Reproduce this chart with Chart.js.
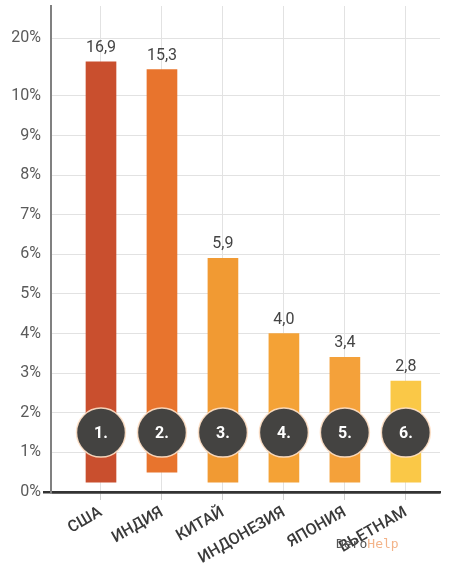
<!DOCTYPE html>
<html>
<head>
<meta charset="utf-8">
<script src="https://cdn.jsdelivr.net/npm/chart.js@4"></script>
<style>
  body { margin: 0; background: #fff; }
  #wrap { position: relative; width: 450px; height: 571px; }
  #mark { position: absolute; left: 336px; top: 536px; font: 13px "DejaVu Sans Mono", monospace; color: #555; }
  #mark span { color: #f3b48a; }
</style>
</head>
<body>
<div id="wrap">
  <canvas id="chart"></canvas>
  <div id="mark">Dero<span>Help</span></div>
</div>
<script>
// Countries and their values (%)
const categories = ["США", "ИНДИЯ", "КИТАЙ", "ИНДОНЕЗИЯ", "ЯПОНИЯ", "ВЬЕТНАМ"];
const values = [16.9, 15.3, 5.9, 4.0, 3.4, 2.8];
const barBases = [0.25, 0.5, 0.25, 0.25, 0.25, 0.25];
const ranks = ["1.", "2.", "3.", "4.", "5.", "6."];
const barColors = ["#c94f2e", "#e8742d", "#f19a33", "#f4a236", "#f4a13a", "#fac847"];
const yTickValues = [0, 1, 2, 3, 4, 5, 6, 7, 8, 9, 10, 20];
const rankLevel = 1.5;

// axis is broken above 10%: the part above is squeezed
const breakScale = 0.125;
const topTickPos = 11.46; // where the 20% label sits on the break
const toAxis = (v) => (v <= 10 ? v : 10 + (v - 10) * breakScale);
const tickPos = (v) => (v <= 10 ? v : topTickPos);

const fmt = (v) => v.toFixed(1).replace(".", ",");

const labelPlugin = {
  id: "labels",
  afterDatasetsDraw(chart) {
    const ctx = chart.ctx;
    ctx.save();
    ctx.textAlign = "center";
    // values above bars
    chart.getDatasetMeta(1).data.forEach((bar, i) => {
      ctx.fillStyle = "#444";
      ctx.font = "16px Roboto";
      ctx.textBaseline = "bottom";
      ctx.fillText(fmt(values[i]), bar.x, bar.y - 6);
    });
    // rank numbers inside circles
    chart.getDatasetMeta(0).data.forEach((pt, i) => {
      ctx.fillStyle = "#fff";
      ctx.font = "bold 16px Roboto";
      ctx.textBaseline = "middle";
      ctx.fillText(ranks[i], pt.x, pt.y + 1);
    });
    ctx.restore();
  },
};

const ctx = document.getElementById("chart").getContext("2d");
new Chart(ctx, {
  type: "bar",
  data: {
    datasets: [
      {
        type: "scatter",
        data: categories.map((c, i) => ({ x: i, y: rankLevel })),
        backgroundColor: "#444341",
        borderColor: "rgba(255, 225, 200, 0.9)",
        borderWidth: 1.5,
        pointRadius: 24.5,
        pointHoverRadius: 24.5,
        order: 0,
      },
      {
        data: values.map((v, i) => ({ x: i, y: [barBases[i], toAxis(v)] })),
        backgroundColor: barColors,
        barThickness: 30,
        order: 1,
      },
    ],
  },
  options: {
    responsive: true,
    maintainAspectRatio: false,
    animation: false,
    layout: { autoPadding: false, padding: { left: 0, right: 10, top: 6, bottom: 0 } },
    plugins: {
      legend: { display: false },
      tooltip: { enabled: false },
    },
    scales: {
      x: {
        type: "linear",
        offset: false,
        min: -0.82,
        max: 5.56,
        afterBuildTicks: (scale) => {
          scale.ticks = categories.map((c, i) => ({ value: i }));
        },
        afterFit: (scale) => {
          scale.height = 79;
          scale.paddingLeft = 0;
          scale.paddingRight = 0;
        },
        ticks: {
          autoSkip: false,
          minRotation: 30,
          maxRotation: 30,
          padding: 3,
          color: "#3a3a3a",
          font: { family: "Roboto", size: 16, weight: "500" },
          callback: (v, i) => categories[i],
        },
        grid: {
          offset: false,
          color: "#e2e2e2",
          tickColor: "#cfcfcf",
          tickLength: 8,
        },
        border: { color: "#333", width: 2.5 },
      },
      y: {
        min: 0,
        max: 12.27,
        afterBuildTicks: (scale) => {
          scale.ticks = yTickValues.map((v) => ({ value: tickPos(v) }));
        },
        afterFit: (scale) => {
          scale.width = 51;
          scale.paddingTop = 0;
          scale.paddingBottom = 0;
        },
        ticks: {
          padding: 2,
          color: "#5a5a5a",
          font: { family: "Roboto", size: 16 },
          callback: (v, i) => yTickValues[i] + "%",
        },
        grid: {
          color: (c) => (c.tick && c.tick.value === 0 ? "#333" : "#e2e2e2"),
          lineWidth: (c) => (c.tick && c.tick.value === 0 ? 2.5 : 1),
          tickColor: (c) => (c.tick && c.tick.value === 0 ? "#333" : "rgba(0,0,0,0)"),
          tickWidth: 2.5,
          tickLength: 8,
        },
        border: { color: "#808080", width: 2 },
      },
    },
  },
  plugins: [labelPlugin],
});
</script>
</body>
</html>
